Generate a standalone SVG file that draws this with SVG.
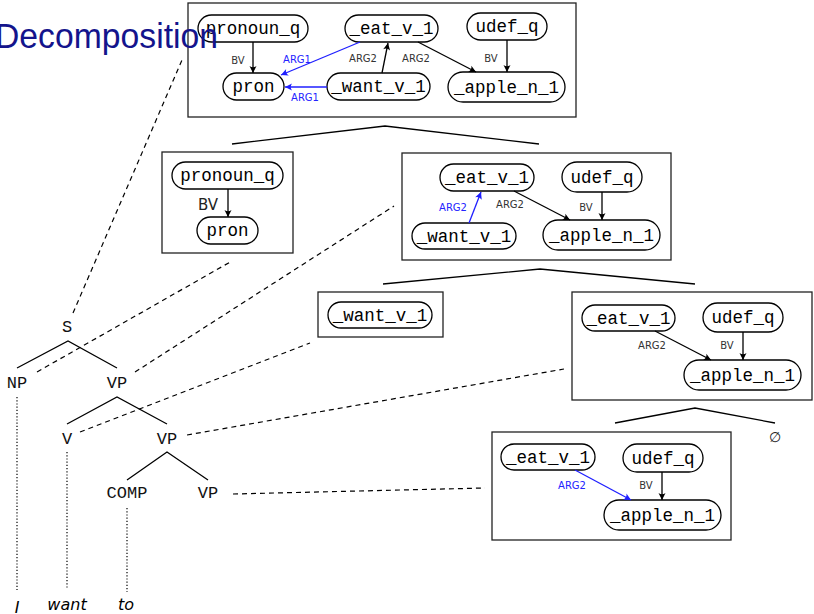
<svg xmlns="http://www.w3.org/2000/svg" width="814" height="614" viewBox="0 0 814 614">
  <style>
    .box { fill: none; stroke: #222; stroke-width: 1.3; }
    .pill { fill: #fff; stroke: #000; stroke-width: 1.3; }
    .mono { font-family: "Liberation Mono", "DejaVu Sans Mono", monospace; font-size: 17.5px; fill: #000; text-anchor: middle; }
    .cat { font-family: "Liberation Mono", "DejaVu Sans Mono", monospace; font-size: 17px; fill: #111; text-anchor: middle; }
    .lbl { font-family: "DejaVu Sans", "Liberation Sans", sans-serif; font-size: 10px; fill: #333; text-anchor: middle; }
    .lbl.blue { fill: #2323ff; }
    .lbl.big { font-size: 15px; fill: #222; }
    .word { font-family: "DejaVu Sans", "Liberation Sans", sans-serif; font-style: italic; font-size: 16px; fill: #000; text-anchor: middle; }
    .edge { fill: none; stroke: #000; stroke-width: 1.3; marker-end: url(#ah); }
    .edge.blue { stroke: #1f1fff; marker-end: url(#ahb); }
    .branch { fill: none; stroke: #000; stroke-width: 1.3; }
    .dash { fill: none; stroke: #000; stroke-width: 1.2; stroke-dasharray: 5 4; }
    .dot { fill: none; stroke: #000; stroke-width: 1.2; stroke-dasharray: 1.2 2; }
  </style>
  <defs>
    <marker id="ah" viewBox="-8 -4 9 8" refX="0" refY="0" markerWidth="9" markerHeight="8" markerUnits="userSpaceOnUse" orient="auto">
      <path d="M0,0 L-7,-3.5 Q-4.5,0 -7,3.5 Z" fill="#000"/>
    </marker>
    <marker id="ahb" viewBox="-8 -4 9 8" refX="0" refY="0" markerWidth="9" markerHeight="8" markerUnits="userSpaceOnUse" orient="auto">
      <path d="M0,0 L-7,-3.5 Q-4.5,0 -7,3.5 Z" fill="#1f1fff"/>
    </marker>
  </defs>

  <!-- Full graph -->
  <g id="full">
    <rect class="box" x="188" y="3" width="388" height="114"/>
    <g id="full-pronoun_q"><rect class="pill" x="198" y="15" width="110" height="27" rx="13.5"/><text class="mono" x="253" y="34">pronoun_q</text></g>
    <g id="full-pron"><rect class="pill" x="223" y="73" width="61" height="27" rx="13.5"/><text class="mono" x="253.5" y="92">pron</text></g>
    <g id="full-eat"><rect class="pill" x="345" y="15" width="93" height="27" rx="13.5"/><text class="mono" x="391.5" y="34">_eat_v_1</text></g>
    <g id="full-udef"><rect class="pill" x="467" y="13" width="80" height="27" rx="13.5"/><text class="mono" x="507" y="32">udef_q</text></g>
    <g id="full-want"><rect class="pill" x="327" y="73" width="103" height="27" rx="13.5"/><text class="mono" x="378.5" y="92">_want_v_1</text></g>
    <g id="full-apple"><rect class="pill" x="448" y="72" width="117" height="30" rx="15"/><text class="mono" x="506.5" y="92.5">_apple_n_1</text></g>
  </g>

  <!-- Split: pronoun part -->
  <g id="pron-part">
    <rect class="box" x="162" y="152" width="131" height="101"/>
    <g id="pp-pronoun_q"><rect class="pill" x="172" y="162" width="111" height="27" rx="13.5"/><text class="mono" x="227.5" y="181">pronoun_q</text></g>
    <g id="pp-pron"><rect class="pill" x="197" y="217" width="61" height="27" rx="13.5"/><text class="mono" x="227.5" y="236">pron</text></g>
  </g>

  <!-- Split: verb phrase part -->
  <g id="vp-part">
    <rect class="box" x="402" y="153" width="269" height="107"/>
    <g id="vp-eat"><rect class="pill" x="440" y="164" width="94" height="27" rx="13.5"/><text class="mono" x="487" y="183">_eat_v_1</text></g>
    <g id="vp-udef"><rect class="pill" x="562" y="162" width="80" height="30" rx="15"/><text class="mono" x="602" y="182.5">udef_q</text></g>
    <g id="vp-want"><rect class="pill" x="412" y="223" width="104" height="26" rx="13"/><text class="mono" x="464" y="241.5">_want_v_1</text></g>
    <g id="vp-apple"><rect class="pill" x="543" y="220" width="117" height="30" rx="15"/><text class="mono" x="601.5" y="240.5">_apple_n_1</text></g>
  </g>

  <!-- Split: want -->
  <g id="want-part">
    <rect class="box" x="318" y="292" width="125" height="45"/>
    <g id="wp-want"><rect class="pill" x="328" y="302" width="104" height="26" rx="13"/><text class="mono" x="380" y="320.5">_want_v_1</text></g>
  </g>

  <!-- Split: eat an apple -->
  <g id="eat-part">
    <rect class="box" x="572" y="292" width="240" height="108"/>
    <g id="ep-eat"><rect class="pill" x="582" y="305" width="93" height="26" rx="13"/><text class="mono" x="628.5" y="323.5">_eat_v_1</text></g>
    <g id="ep-udef"><rect class="pill" x="703" y="303" width="80" height="29" rx="14.5"/><text class="mono" x="743" y="323">udef_q</text></g>
    <g id="ep-apple"><rect class="pill" x="684" y="360" width="117" height="30" rx="15"/><text class="mono" x="742.5" y="380.5">_apple_n_1</text></g>
  </g>

  <!-- Split: to eat an apple -->
  <g id="to-eat-part">
    <rect class="box" x="492" y="432" width="239" height="108"/>
    <g id="tp-eat"><rect class="pill" x="501" y="444" width="94" height="26" rx="13"/><text class="mono" x="548" y="462.5">_eat_v_1</text></g>
    <g id="tp-udef"><rect class="pill" x="623" y="444" width="80" height="28" rx="14"/><text class="mono" x="663" y="463.5">udef_q</text></g>
    <g id="tp-apple"><rect class="pill" x="604" y="500" width="117" height="30" rx="15"/><text class="mono" x="662.5" y="520.5">_apple_n_1</text></g>
  </g>

  <g id="empty"><text x="775" y="442" font-family="DejaVu Sans, sans-serif" font-size="14" text-anchor="middle" fill="#222">∅</text></g>

  <!-- Syntax tree -->
  <g id="tree">
    <text class="cat" x="67" y="332">S</text>
    <text class="cat" x="17" y="388">NP</text>
    <text class="cat" x="117" y="388">VP</text>
    <text class="cat" x="67" y="444">V</text>
    <text class="cat" x="167" y="444">VP</text>
    <text class="cat" x="127" y="498">COMP</text>
    <text class="cat" x="208" y="498">VP</text>
    <text class="word" x="17" y="613">I</text>
    <text class="word" x="67" y="610">want</text>
    <text class="word" x="126" y="610">to</text>
  </g>

  <!-- Connectors -->
  <g id="connectors">
    <!-- graph edges -->
    <path class="edge" d="M253,42 L253,73"/>
    <path class="edge" d="M507,40 L507,72"/>
    <path class="edge blue" d="M360,42 L281,75"/>
    <path class="edge blue" d="M327,87 L285,87"/>
    <path class="edge" d="M382,73 L388,43"/>
    <path class="edge" d="M418,42 L476,72"/>
    <text class="lbl" x="238" y="64">BV</text>
    <text class="lbl blue" x="297" y="63">ARG1</text>
    <text class="lbl blue" x="305" y="101">ARG1</text>
    <text class="lbl" x="363" y="62">ARG2</text>
    <text class="lbl" x="416" y="62">ARG2</text>
    <text class="lbl" x="491" y="62">BV</text>

    <path class="edge" d="M228,189 L228,217"/>
    <text class="lbl big" x="208" y="210">BV</text>

    <path class="edge blue" d="M469,223 L481,192"/>
    <path class="edge" d="M514,191 L570,220"/>
    <path class="edge" d="M602,192 L602,220"/>
    <text class="lbl blue" x="453" y="211">ARG2</text>
    <text class="lbl" x="510" y="208">ARG2</text>
    <text class="lbl" x="586" y="211">BV</text>

    <path class="edge" d="M655,331 L711,360"/>
    <path class="edge" d="M743,332 L743,360"/>
    <text class="lbl" x="652" y="349">ARG2</text>
    <text class="lbl" x="727" y="349">BV</text>

    <path class="edge blue" d="M575,470 L631,500"/>
    <path class="edge" d="M662,472 L662,500"/>
    <text class="lbl blue" x="572" y="489">ARG2</text>
    <text class="lbl" x="646" y="489">BV</text>

    <!-- decomposition branches -->
    <path class="branch" d="M232,144 L385,126 L539,144"/>
    <path class="branch" d="M383,284 L540,269 L695,284"/>
    <path class="branch" d="M615,423 L695,408 L775,423"/>

    <!-- tree branches -->
    <path class="branch" d="M17,368 L68,341 L117,368"/>
    <path class="branch" d="M67,424 L117,397 L167,424"/>
    <path class="branch" d="M127,480 L167,452 L208,480"/>
    <path class="dot" d="M17,397 L17,590"/>
    <path class="dot" d="M67,452 L67,588"/>
    <path class="dot" d="M127,508 L127,592"/>

    <!-- alignment links -->
    <path class="dash" d="M73,313 L182,60"/>
    <path class="dash" d="M37,372 L232,261"/>
    <path class="dash" d="M135,372 L394,206"/>
    <path class="dash" d="M80,432 L310,343"/>
    <path class="dash" d="M187,435 L564,369"/>
    <path class="dash" d="M233,494 L485,488"/>
  </g>

  <text x="-5" y="48" font-family="Liberation Sans, Arial, sans-serif" font-size="35" fill="#14148c" textLength="223" lengthAdjust="spacingAndGlyphs">Decomposition</text>
</svg>
